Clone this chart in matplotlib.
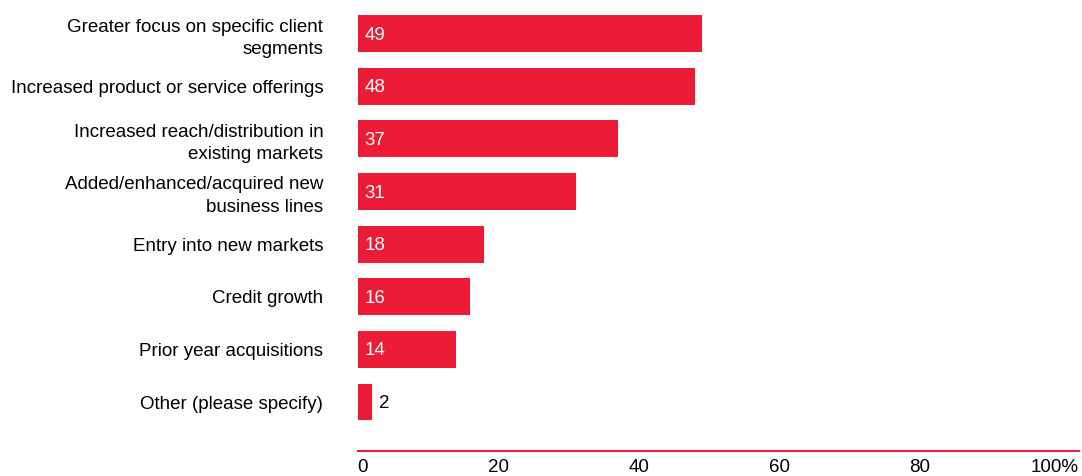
import matplotlib
matplotlib.use("Agg")
import matplotlib.pyplot as plt
from matplotlib.transforms import ScaledTranslation

categories = [
    "Greater focus on specific client\nsegments",
    "Increased product or service offerings",
    "Increased reach/distribution in\nexisting markets",
    "Added/enhanced/acquired new\nbusiness lines",
    "Entry into new markets",
    "Credit growth",
    "Prior year acquisitions",
    "Other (please specify)",
]
values = [49, 48, 37, 31, 18, 16, 14, 2]
tick_values = [0, 20, 40, 60, 80, 100]
tick_labels = ["0", "20", "40", "60", "80", "100%"]

RED = "#ED1C36"
FS = 13.5
plt.rcParams["font.family"] = ["Liberation Sans", "DejaVu Sans"]

fig = plt.figure(figsize=(10.82, 4.76), dpi=100)
ax = fig.add_axes([358 / 1082, 25 / 476, (1079 - 358) / 1082, 451 / 476])

ypos = list(range(len(categories)))
ax.barh(ypos, values, height=0.70, color=RED, edgecolor="none")

for y, v in zip(ypos, values):
    if v >= 5:
        ax.text(0.9, y + 0.03, str(v), color="white", fontsize=FS, va="center", ha="left")
    else:
        ax.text(v + 1.0, y + 0.03, str(v), color="black", fontsize=FS, va="center", ha="left")

ax.set_xlim(0, 102.7)
ax.set_ylim(7.93, -0.637)
ax.set_yticks(ypos)
ax.set_yticklabels(categories, fontsize=FS, linespacing=1.4, ha="right")
ax.tick_params(axis="y", length=0, pad=25)
ax.set_xticks(tick_values)
ax.set_xticklabels(tick_labels, fontsize=FS)
ax.tick_params(axis="x", length=0, pad=6)

labs = ax.get_xticklabels()
labs[-1].set_ha("right")
labs[-1].set_transform(labs[-1].get_transform() + ScaledTranslation(0.19, 0, fig.dpi_scale_trans))
labs[0].set_transform(labs[0].get_transform() + ScaledTranslation(0.04, 0, fig.dpi_scale_trans))

for s in ["top", "right", "left"]:
    ax.spines[s].set_visible(False)
ax.spines["bottom"].set_color(RED)
ax.spines["bottom"].set_linewidth(1.5)

fig.savefig("out.png", dpi=100)
